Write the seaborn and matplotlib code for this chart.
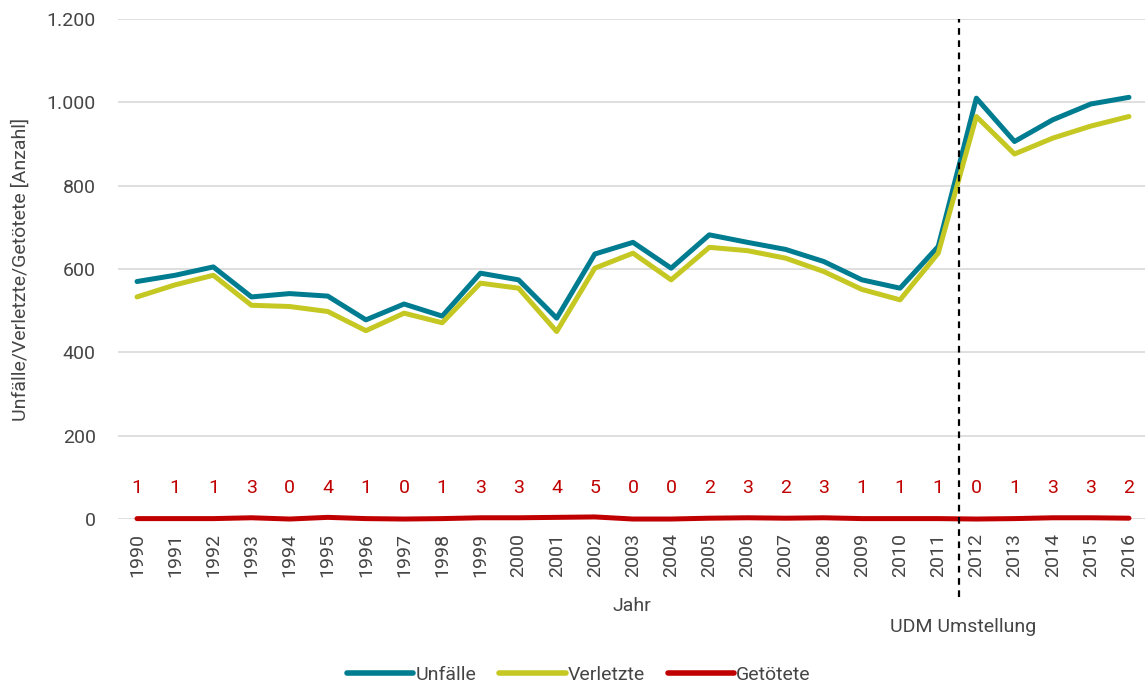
import matplotlib
matplotlib.use("Agg")
import matplotlib.pyplot as plt
import seaborn as sns
import pandas as pd

years = list(range(1990, 2017))
unfaelle = [570, 585, 605, 533, 541, 535, 478, 516, 487, 590, 574, 482, 636, 664, 602,
            682, 664, 647, 618, 574, 554, 654, 1010, 906, 958, 996, 1012]
verletzte = [533, 562, 585, 513, 510, 498, 452, 494, 471, 566, 554, 450, 602, 638, 574,
             652, 644, 626, 594, 551, 526, 638, 966, 876, 914, 943, 966]
getoetete = [1, 1, 1, 3, 0, 4, 1, 0, 1, 3, 3, 4, 5, 0, 0, 2, 3, 2, 3, 1, 1, 1, 0, 1, 3, 3, 2]
series_names = ["Unfälle", "Verletzte", "Getötete"]
colors = ["#007C91", "#C5C822", "#C00000"]

sns.set_theme(style="white")
plt.rcParams["font.family"] = ["Roboto", "DejaVu Sans"]
plt.rcParams["font.weight"] = "normal"
plt.rcParams["axes.labelweight"] = "normal"

FS = 14
TXT = "#454545"

df = pd.DataFrame({
    "Jahr": years * 3,
    "Wert": unfaelle + verletzte + getoetete,
    "Serie": [series_names[0]] * len(years) + [series_names[1]] * len(years) + [series_names[2]] * len(years),
})

fig = plt.figure(figsize=(11.45, 6.88), dpi=100)
ax = fig.add_axes([0.103, 0.2456, 0.897, 0.7268])

sns.lineplot(data=df, x="Jahr", y="Wert", hue="Serie", palette=dict(zip(series_names, colors)),
             hue_order=series_names, linewidth=3.6, ax=ax, legend=False)
for ln in ax.get_lines():
    ln.set_clip_on(False)
    ln.set_solid_capstyle("round")
    ln.set_solid_joinstyle("round")

ax.set_xlim(1989.5, 2016.42)
ax.set_ylim(0, 1200)
ax.set_yticks([0, 200, 400, 600, 800, 1000, 1200])
ax.set_yticklabels(["0", "200", "400", "600", "800", "1.000", "1.200"])
ax.set_xticks(years)
ax.set_xticklabels([str(y) for y in years], rotation=90)
ax.tick_params(axis="both", labelsize=FS, colors=TXT, length=0)
ax.tick_params(axis="y", pad=16)
ax.tick_params(axis="x", pad=10)
ax.grid(axis="y", color="#D9D9D9", linewidth=1.2)
ax.set_axisbelow(True)
for s in ax.spines.values():
    s.set_visible(False)

ax.set_xlabel("")
ax.set_ylabel("Unfälle/Verletzte/Getötete [Anzahl]", fontsize=FS, color=TXT, labelpad=12)

for yr, v in zip(years, getoetete):
    ax.text(yr, 75, str(v), ha="center", va="center", color="#C00000", fontsize=FS)

ax.axvline(2011.55, ymin=-0.156, ymax=1.0, color="black", linestyle=(0, (3, 2.5)), linewidth=1.6, clip_on=False)

fig.text(632 / 1145, 1 - 606 / 688, "Jahr", ha="center", va="center", fontsize=FS, color=TXT)
fig.text(963 / 1145, 1 - 627 / 688, "UDM Umstellung", ha="center", va="center", fontsize=FS, color=TXT)

handles = [plt.Line2D([0], [0], color=c, linewidth=4, solid_capstyle="round") for c in colors]
fig.legend(handles, series_names, loc="center", bbox_to_anchor=(579 / 1145, 1 - 675 / 688), ncol=3,
           frameon=False, fontsize=FS, handlelength=3.4, handletextpad=0.1, columnspacing=1.2,
           labelcolor=TXT)

fig.savefig("out.png", dpi=100)
